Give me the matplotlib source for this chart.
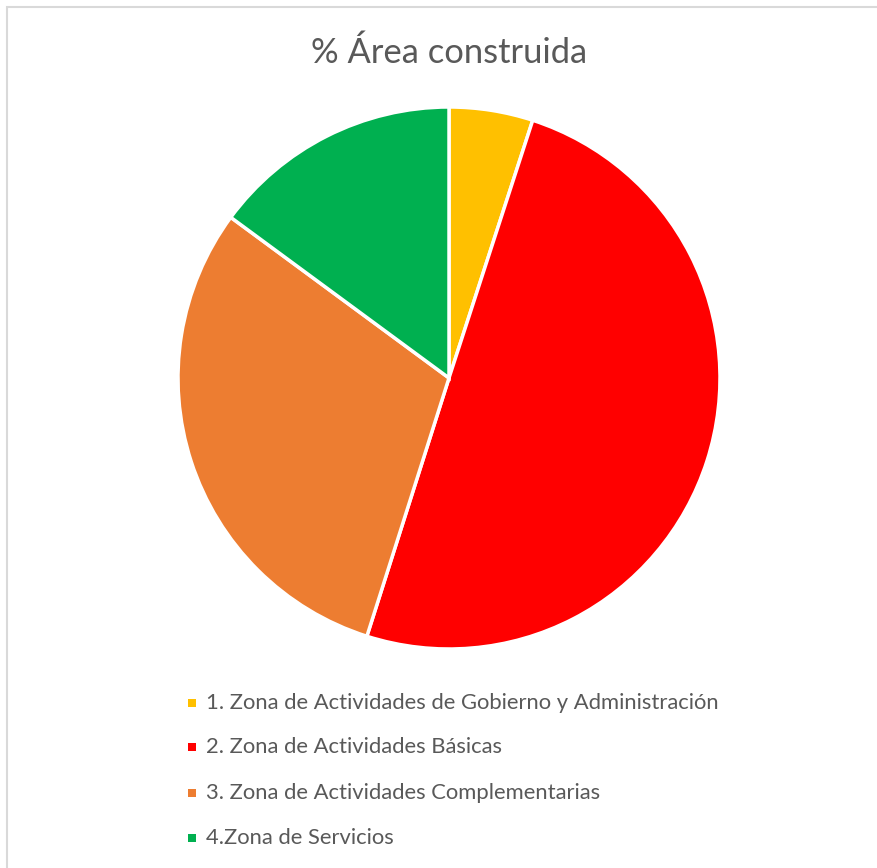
import matplotlib.pyplot as plt
from matplotlib.patches import Rectangle

# % de área construida por zona
zonas = ["1. Zona de Actividades de Gobierno y Administración",
         "2. Zona de Actividades Básicas",
         "3. Zona de Actividades Complementarias",
         "4.Zona de Servicios"]
porcentajes = [5.0, 49.9, 30.2, 14.9]
colores = ["#FFC000", "#FF0000", "#ED7D31", "#00B050"]

plt.rcParams['font.family'] = ['Lato', 'DejaVu Sans']

W, H = 878, 868
fig = plt.figure(figsize=(W / 100, H / 100), dpi=100)

# marco gris claro del gráfico
fig.patches.append(Rectangle((7.5 / W, -0.1), 1.2, 1.1 - 7 / H, transform=fig.transFigure,
                             fill=False, edgecolor="#D9D9D9", linewidth=1.5))

fig.text(449 / W, 1 - 53 / H, "% Área construida", ha="center", va="center",
         fontsize=24.8, color="#595959")

cx, cy, r = 449, 378, 271
ax = fig.add_axes([(cx - r) / W, 1 - (cy + r) / H, 2 * r / W, 2 * r / H])
ax.pie(porcentajes, colors=colores, startangle=90, counterclock=False,
       wedgeprops=dict(edgecolor="white", linewidth=2.5))
ax.set_xlim(-1, 1)
ax.set_ylim(-1, 1)
ax.set_aspect("equal")
ax.axis("off")

filas = [703, 747, 793, 838]
for zona, color, y in zip(zonas, colores, filas):
    fig.patches.append(Rectangle((188 / W, 1 - (y + 4) / H), 8 / W, 8 / H,
                                 transform=fig.transFigure, facecolor=color, edgecolor="none"))
    fig.text(206 / W, 1 - y / H, zona, ha="left", va="center", fontsize=15.8, color="#595959")

fig.savefig("out.png", dpi=100, facecolor="white")
